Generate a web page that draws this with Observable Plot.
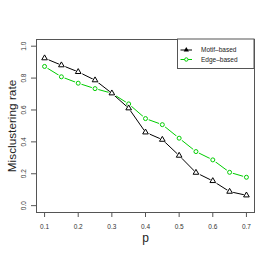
<!DOCTYPE html>
<html>
<head>
<meta charset="utf-8">
<script src="https://cdn.jsdelivr.net/npm/d3@7"></script>
<script src="https://cdn.jsdelivr.net/npm/@observablehq/plot@0.6"></script>
<style>
  html, body { margin: 0; padding: 0; background: #fff; }
  svg { display: block; }
</style>
</head>
<body>
<div id="chart"></div>
<script>
const pValues = [0.1, 0.15, 0.2, 0.25, 0.3, 0.35, 0.4, 0.45, 0.5, 0.55, 0.6, 0.65, 0.7];
const motifBased = [0.925, 0.881, 0.839, 0.787, 0.705, 0.611, 0.460, 0.414, 0.314, 0.207, 0.155, 0.088, 0.065];
const edgeBased  = [0.873, 0.808, 0.768, 0.734, 0.705, 0.638, 0.546, 0.508, 0.423, 0.339, 0.287, 0.209, 0.178];
const seriesNames = ["Motif\u2013based", "Edge\u2013based"];
const seriesColors = ["#000000", "#00CD00"];
const xTicks = [0.1, 0.2, 0.3, 0.4, 0.5, 0.6, 0.7];
const yTicks = [0.0, 0.2, 0.4, 0.6, 0.8, 1.0];
const xLabel = "p";
const yLabel = "Misclustering rate";

const motifData = pValues.map((p, i) => ({p, v: motifBased[i]}));
const edgeData = pValues.map((p, i) => ({p, v: edgeBased[i]}));

const font = "'Liberation Sans', Arial, Helvetica, sans-serif";

const plot = Plot.plot({
  width: 273,
  height: 262,
  marginLeft: 36,
  marginRight: 19,
  marginTop: 39,
  marginBottom: 50,
  style: {fontFamily: font, background: "#fff", overflow: "visible"},
  x: {domain: [0.076, 0.724]},
  y: {domain: [-0.043, 1.042]},
  marks: [
    Plot.frame({stroke: "#555"}),
    Plot.axisX({ticks: xTicks, tickSize: 5, tickPadding: 7, tickFormat: d3.format(".1f"), fontSize: 6.5, stroke: "#555", fill: "#333", label: null}),
    Plot.axisY({ticks: yTicks, tickSize: 5, tickFormat: () => "", stroke: "#555", label: null}),
    Plot.text(yTicks, {y: d => d, text: d => d3.format(".1f")(d), frameAnchor: "left", dx: -13, rotate: -90, textAnchor: "middle", lineAnchor: "middle", fontSize: 6.5, fill: "#333"}),
    Plot.text([xLabel], {text: d => d, frameAnchor: "bottom", dy: 26, lineAnchor: "middle", fontSize: 12, fill: "#222"}),
    Plot.text([yLabel], {text: d => d, frameAnchor: "left", dx: -24, rotate: -90, textAnchor: "middle", lineAnchor: "middle", fontSize: 11.8, fill: "#222"}),
    Plot.line(edgeData, {x: "p", y: "v", stroke: seriesColors[1], strokeWidth: 1}),
    Plot.dot(edgeData, {x: "p", y: "v", r: 3.4, fill: "#fff", stroke: null}),
    Plot.dot(edgeData, {x: "p", y: "v", r: 2, fill: "#fff", stroke: seriesColors[1], strokeWidth: 1}),
    Plot.line(motifData, {x: "p", y: "v", stroke: seriesColors[0], strokeWidth: 1}),
    Plot.dot(motifData, {x: "p", y: "v", symbol: "triangle", r: 3.4, fill: "#fff", stroke: null}),
    Plot.dot(motifData, {x: "p", y: "v", symbol: "triangle", r: 2.1, fill: "#fff", stroke: seriesColors[0], strokeWidth: 1})
  ]
});

// Legend (top-right inside the frame)
const svg = d3.select(plot);
const lg = svg.append("g").attr("font-family", font).attr("text-anchor", "start");
lg.append("rect").attr("x", 177.5).attr("y", 39).attr("width", 76.5).attr("height", 29.5)
  .attr("fill", "#fff").attr("stroke", "#555");
const rows = [50, 59.5];
seriesNames.forEach((name, i) => {
  const y = rows[i];
  lg.append("line").attr("x1", 180.5).attr("x2", 192).attr("y1", y).attr("y2", y)
    .attr("stroke", seriesColors[i]).attr("stroke-width", 1);
  if (i === 0) {
    lg.append("path").attr("d", d3.symbol(d3.symbolTriangle, 12)())
      .attr("transform", `translate(186.3,${y})`).attr("fill", "#000");
  } else {
    lg.append("circle").attr("cx", 186.3).attr("cy", y).attr("r", 1.7)
      .attr("fill", "#fff").attr("stroke", seriesColors[i]).attr("stroke-width", 1);
  }
  lg.append("text").attr("x", 201).attr("y", y).attr("dy", "0.35em")
    .attr("text-anchor", "start")
    .attr("font-size", 6.5).attr("fill", "#222").text(name);
});

document.getElementById("chart").appendChild(plot);
</script>
</body>
</html>
